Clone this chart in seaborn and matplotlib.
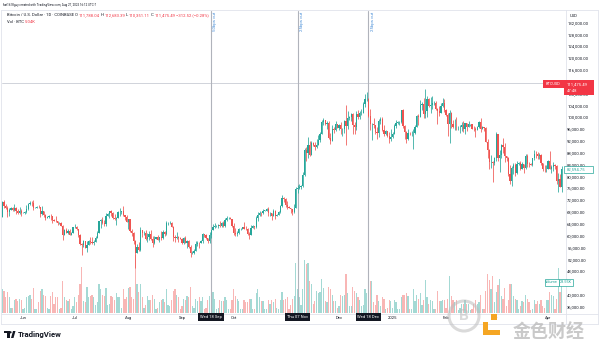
import numpy as np
import pandas as pd
import matplotlib
matplotlib.use("Agg")
import matplotlib.pyplot as plt
import matplotlib.dates as mdates
import matplotlib.patches as mpatches
import matplotlib.ticker as mticker
from matplotlib.lines import Line2D
import seaborn as sns

# ---------------- data (BTC/USD daily, thousands of USD; volume in thousands of BTC) -------------
start_date = "2024-05-18"
first_open_k = 67.0

close_may = [66.9, 66.3, 71.4, 70.1, 69.2, 67.9, 68.5, 69.3, 68.5, 69.4, 68.3, 67.6, 68.4, 67.5]
high_may = [67.4, 67.0, 71.5, 71.9, 70.6, 70.1, 69.2, 69.6, 69.5, 70.6, 69.5, 68.9, 69.5, 69.0]
low_may = [66.6, 65.9, 66.1, 69.2, 68.9, 66.3, 66.6, 68.5, 68.4, 68.3, 67.3, 67.1, 67.1, 66.6]
vol_may = [5, 4, 18, 17, 12, 16, 12, 4, 4, 10, 11, 9, 11, 10]

close_jun = [67.7, 67.8, 68.8, 70.5, 71.1, 70.8, 69.3, 69.3, 69.6, 69.5, 67.3, 68.2, 66.8, 66.0, 66.2,
             66.6, 66.5, 65.2, 64.9, 64.8, 64.1, 64.3, 63.2, 60.3, 61.8, 60.9, 61.6, 60.3, 60.9, 62.7]
high_jun = [67.9, 68.4, 70.2, 71.0, 71.7, 71.6, 71.9, 69.6, 70.0, 70.2, 69.6, 69.9, 68.4, 67.3, 66.4,
            66.9, 67.2, 66.6, 65.7, 66.5, 65.0, 64.5, 64.5, 63.4, 62.3, 62.5, 62.3, 62.2, 61.2, 63.0]
low_jun = [67.4, 67.3, 67.6, 68.5, 70.2, 70.1, 68.5, 69.1, 69.2, 69.2, 66.1, 66.9, 66.3, 65.1, 65.9,
           66.0, 65.1, 64.1, 64.7, 64.6, 63.4, 63.9, 63.2, 58.4, 60.3, 60.7, 60.6, 60.0, 60.4, 60.8]
vol_jun = [3, 4, 12, 13, 14, 11, 19, 3, 3, 8, 17, 18, 14, 13, 4, 3, 13, 16, 7, 12, 12, 3, 4, 24, 12,
           10, 9, 11, 3, 5]

close_jul = [62.8, 62.0, 60.2, 57.0, 56.6, 58.2, 55.8, 56.7, 58.0, 57.7, 57.3, 57.9, 59.2, 60.8, 64.8,
             65.1, 64.1, 63.9, 66.7, 67.2, 68.2, 67.6, 65.9, 65.4, 65.8, 67.9, 68.0, 68.3, 66.8, 66.2, 64.6]
high_jul = [63.8, 63.3, 62.3, 60.5, 57.5, 58.5, 58.2, 58.2, 58.3, 59.4, 59.5, 58.5, 59.8, 61.4, 64.9,
            65.4, 66.1, 65.1, 67.4, 67.6, 68.4, 68.5, 67.8, 67.1, 66.1, 68.2, 69.4, 68.3, 70.0, 66.9, 66.8]
low_jul = [62.5, 61.8, 59.5, 56.8, 53.5, 56.1, 55.8, 54.3, 56.6, 57.2, 57.0, 56.6, 57.8, 59.2, 60.7,
           62.5, 63.9, 63.2, 63.3, 66.6, 65.8, 66.6, 65.5, 65.1, 63.4, 65.8, 66.7, 67.1, 66.6, 65.3, 64.5]
vol_jul = [12, 8, 14, 22, 35, 9, 8, 20, 12, 13, 14, 12, 6, 8, 22, 18, 14, 13, 19, 6, 7, 13, 12, 10, 15,
           12, 12, 4, 18, 11, 12]

close_aug = [65.4, 61.5, 60.7, 58.1, 54.0, 56.0, 55.0, 61.7, 60.9, 60.9, 58.7, 59.4, 60.6, 58.7, 57.5,
             58.9, 59.5, 58.4, 59.5, 59.0, 61.2, 60.4, 64.1, 64.2, 64.2, 62.8, 59.4, 59.0, 59.4, 59.1, 58.9]
high_aug = [65.6, 65.4, 62.2, 61.1, 58.3, 57.0, 57.7, 62.7, 61.7, 61.5, 61.8, 60.7, 61.6, 61.8, 59.8,
            59.8, 59.6, 60.3, 59.6, 61.4, 61.8, 61.4, 64.9, 64.5, 65.0, 64.5, 63.2, 60.2, 61.2, 59.8, 59.4]
low_aug = [62.3, 61.2, 59.8, 57.2, 49.0, 54.0, 54.6, 54.7, 59.6, 60.3, 58.3, 57.7, 58.5, 58.4, 56.1,
           57.1, 58.8, 58.3, 57.8, 58.6, 58.8, 59.8, 60.3, 63.6, 63.8, 62.7, 58.1, 57.9, 58.8, 57.8, 58.7]
vol_aug = [19, 20, 12, 11, 44, 22, 16, 22, 12, 4, 6, 13, 10, 10, 14, 11, 3, 4, 8, 10, 11, 8, 18, 6, 5,
           10, 17, 18, 14, 12, 3]

close_sep = [57.3, 59.1, 57.5, 58.0, 56.2, 53.9, 54.1, 54.8, 57.0, 57.6, 57.3, 58.1, 60.5, 60.0, 59.1,
             58.2, 60.3, 61.7, 62.9, 63.2, 63.3, 63.6, 63.3, 64.3, 63.1, 65.2, 65.8, 65.9, 65.6, 63.3]
high_sep = [59.0, 59.4, 59.8, 58.5, 58.3, 56.9, 54.8, 55.3, 58.1, 58.0, 57.9, 58.6, 60.7, 60.6, 60.4,
            59.2, 61.3, 61.8, 63.9, 64.1, 63.6, 64.0, 64.8, 64.5, 64.8, 65.8, 66.5, 66.3, 66.1, 65.6]
low_sep = [57.2, 57.1, 57.4, 55.6, 55.7, 52.6, 53.7, 53.6, 54.6, 56.4, 55.6, 57.3, 57.6, 59.5, 58.7,
           57.5, 57.6, 59.2, 61.7, 62.4, 62.8, 62.4, 62.9, 62.7, 62.7, 62.7, 64.8, 65.4, 65.4, 62.9]
vol_sep = [5, 11, 10, 13, 12, 20, 5, 4, 11, 9, 12, 9, 12, 3, 4, 10, 13, 16, 16, 11, 3, 4, 10, 9, 9, 12,
           10, 3, 3, 10]

close_oct = [60.8, 60.6, 60.8, 62.1, 62.1, 62.8, 62.2, 62.1, 60.6, 60.3, 62.5, 63.2, 62.9, 66.0, 67.0,
             67.6, 67.4, 68.4, 68.4, 69.0, 67.4, 67.4, 66.7, 68.2, 66.6, 67.0, 67.9, 69.9, 72.7, 72.3, 70.2]
high_oct = [64.1, 62.4, 61.4, 62.5, 62.4, 63.0, 64.5, 63.2, 62.5, 61.3, 63.4, 63.5, 63.3, 66.5, 67.9,
            68.4, 67.9, 68.9, 68.7, 69.4, 69.5, 67.8, 67.5, 68.8, 68.7, 67.3, 68.2, 70.2, 73.6, 72.9, 72.7]
low_oct = [60.2, 59.9, 59.9, 60.5, 61.7, 62.0, 62.1, 61.8, 60.3, 58.9, 60.4, 62.4, 62.0, 62.4, 64.8,
           66.7, 66.7, 67.1, 68.1, 68.1, 66.6, 66.6, 65.3, 66.6, 65.5, 66.6, 66.8, 67.5, 69.7, 71.4, 69.7]
vol_oct = [18, 13, 11, 9, 3, 3, 10, 8, 8, 11, 11, 3, 3, 15, 18, 12, 9, 9, 3, 3, 10, 7, 10, 8, 11, 4, 3,
           10, 16, 10, 11]

close_nov = [69.5, 69.3, 68.8, 67.8, 69.4, 75.6, 75.9, 76.5, 76.7, 80.4, 88.7, 87.9, 90.5, 87.3, 91.1,
             90.6, 89.8, 90.5, 92.3, 94.3, 98.4, 98.9, 97.7, 98.0, 93.0, 91.9, 95.9, 95.6, 97.5, 96.4]
high_nov = [71.6, 69.9, 69.4, 69.0, 70.6, 76.4, 76.9, 77.3, 76.9, 81.5, 89.6, 89.9, 93.4, 91.8, 91.8,
            91.5, 91.4, 92.6, 94.0, 94.9, 98.9, 99.6, 98.9, 98.6, 98.8, 94.7, 97.3, 96.6, 98.7, 97.5]
low_nov = [68.8, 69.1, 67.5, 66.8, 67.5, 69.3, 74.4, 75.6, 75.8, 76.5, 80.2, 85.1, 86.2, 86.7, 87.1,
           90.1, 88.7, 89.4, 90.9, 91.5, 94.1, 97.2, 97.2, 95.8, 92.6, 90.8, 91.8, 94.6, 95.4, 96.2]
vol_nov = [12, 3, 6, 11, 13, 38, 18, 12, 6, 18, 40, 37, 38, 24, 22, 7, 9, 17, 15, 16, 26, 19, 9, 8, 20,
           18, 14, 9, 9, 4]

close_dec = [97.3, 95.8, 96.0, 98.8, 96.9, 99.8, 99.9, 101.1, 97.3, 96.6, 101.1, 100.0, 101.4, 101.4,
             104.3, 106.0, 106.1, 100.2, 97.5, 97.8, 97.2, 95.1, 94.7, 98.7, 99.4, 95.7, 94.2, 95.2, 93.6,
             92.7, 93.4]
high_dec = [97.8, 98.2, 96.3, 99.0, 104.0, 101.9, 100.5, 101.3, 101.2, 98.3, 101.9, 102.5, 101.9, 102.6,
            105.2, 107.7, 108.3, 106.5, 102.7, 98.1, 99.5, 97.3, 96.5, 99.4, 99.9, 99.9, 97.3, 95.5, 95.2,
            94.9, 96.1]
low_dec = [95.7, 94.3, 93.6, 94.7, 90.5, 95.9, 99.1, 98.7, 94.2, 94.3, 95.7, 99.3, 99.2, 100.6, 101.2,
           103.3, 105.3, 100.1, 95.7, 92.2, 96.4, 94.2, 92.4, 93.4, 97.6, 95.2, 93.5, 94.0, 93.3, 91.3, 92.0]
vol_dec = [5, 14, 13, 14, 30, 15, 5, 5, 20, 17, 15, 12, 10, 5, 6, 18, 15, 22, 24, 24, 8, 6, 14, 9, 5,
           12, 11, 3, 4, 10, 9]

close_jan = [94.4, 96.9, 98.1, 98.2, 98.3, 102.2, 96.9, 95.0, 92.5, 94.7, 94.5, 94.5, 94.5, 96.5, 100.5,
             99.9, 104.1, 104.4, 101.1, 102.0, 106.1, 103.6, 104.0, 104.7, 104.7, 102.6, 102.1, 101.3,
             103.7, 104.7, 102.4]
high_jan = [94.9, 97.8, 98.9, 98.7, 98.8, 102.5, 102.7, 97.3, 95.3, 95.8, 94.9, 95.4, 95.9, 97.3, 100.7,
            100.9, 105.9, 104.9, 106.3, 109.3, 107.2, 106.3, 106.8, 107.1, 105.3, 105.5, 103.2, 103.7,
            104.8, 106.4, 106.0]
low_jan = [92.9, 94.4, 96.2, 97.8, 97.3, 97.9, 96.2, 92.5, 91.2, 92.2, 93.9, 93.7, 89.2, 94.3, 96.5,
           97.3, 99.9, 102.3, 99.6, 99.5, 100.1, 103.3, 101.2, 102.8, 104.1, 102.5, 97.8, 100.3, 101.3,
           103.3, 101.6]
vol_jan = [4, 10, 8, 3, 3, 12, 14, 14, 15, 13, 3, 3, 18, 9, 14, 11, 15, 6, 10, 25, 12, 7, 10, 9, 3, 3,
           17, 9, 9, 10, 10]

close_feb = [100.6, 97.6, 101.4, 97.8, 96.6, 96.6, 96.5, 96.5, 96.5, 97.4, 95.8, 97.9, 96.6, 97.5, 97.6,
             96.1, 95.8, 95.6, 96.6, 98.3, 96.1, 96.6, 96.3, 91.5, 88.7, 84.7, 84.7, 84.4]
high_feb = [102.8, 101.5, 102.5, 101.7, 99.0, 99.2, 100.1, 96.9, 97.3, 98.3, 98.5, 98.1, 97.9, 98.8,
            97.8, 97.7, 97.0, 96.7, 96.9, 98.8, 99.5, 96.9, 96.7, 96.5, 92.5, 89.3, 87.1, 85.1]
low_feb = [100.3, 93.7, 91.2, 96.2, 96.2, 95.6, 95.7, 95.7, 94.7, 95.3, 94.9, 94.1, 95.3, 96.5, 97.1,
           96.0, 95.2, 93.4, 95.5, 96.4, 94.9, 95.9, 95.4, 91.4, 86.0, 82.3, 82.7, 78.2]
vol_feb = [4, 11, 28, 13, 10, 8, 10, 2, 4, 7, 7, 10, 7, 7, 2, 3, 7, 10, 7, 8, 14, 3, 3, 17, 30, 25, 18, 28]

close_mar = [86.0, 94.3, 86.1, 87.2, 90.6, 89.9, 86.7, 86.1, 80.7, 78.5, 82.9, 83.7, 81.1, 84.0, 84.3,
             82.6, 84.0, 82.7, 86.8, 84.2, 84.0, 83.8, 86.1, 87.5, 87.4, 86.9, 87.2, 84.4, 82.6, 82.4, 82.5]
high_mar = [86.6, 95.0, 94.4, 88.9, 91.0, 92.8, 91.3, 86.9, 86.4, 83.9, 83.6, 84.4, 84.3, 85.3, 84.7,
            85.0, 84.7, 84.0, 87.4, 87.4, 84.8, 84.5, 86.1, 88.8, 88.5, 88.3, 87.8, 87.5, 84.6, 83.9, 83.9]
low_mar = [83.8, 85.1, 85.1, 81.5, 86.3, 87.8, 84.7, 85.2, 80.1, 77.5, 76.6, 80.7, 79.9, 80.8, 83.7,
           82.0, 82.5, 81.2, 82.4, 83.2, 83.2, 83.7, 83.6, 85.4, 86.3, 85.9, 85.8, 83.7, 81.6, 81.3, 81.3]
vol_mar = [8, 16, 21, 26, 13, 11, 19, 5, 10, 22, 22, 13, 11, 10, 3, 5, 9, 8, 14, 11, 8, 2, 3, 10, 7, 9,
           7, 10, 5, 4, 10]

close_apr = [85.2, 82.5, 83.1, 83.9, 83.5, 78.4, 79.1, 76.3, 82.6]
high_apr = [85.5, 88.5, 83.9, 84.7, 84.2, 83.8, 81.2, 80.9, 83.6]
low_apr = [82.4, 82.3, 81.2, 81.7, 82.4, 77.2, 74.5, 76.2, 74.6]
vol_apr = [10, 16, 14, 13, 3, 11, 34, 16, 23.55]

month_days = [14, 30, 31, 31, 30, 31, 30, 31, 31, 28, 31, 9]
closes_m = [close_may, close_jun, close_jul, close_aug, close_sep, close_oct, close_nov, close_dec,
            close_jan, close_feb, close_mar, close_apr]
highs_m = [high_may, high_jun, high_jul, high_aug, high_sep, high_oct, high_nov, high_dec,
           high_jan, high_feb, high_mar, high_apr]
lows_m = [low_may, low_jun, low_jul, low_aug, low_sep, low_oct, low_nov, low_dec,
          low_jan, low_feb, low_mar, low_apr]
vols_m = [vol_may, vol_jun, vol_jul, vol_aug, vol_sep, vol_oct, vol_nov, vol_dec,
          vol_jan, vol_feb, vol_mar, vol_apr]
for n, a, b, c, d in zip(month_days, closes_m, highs_m, lows_m, vols_m):
    assert len(a) == len(b) == len(c) == len(d) == n, (n, len(a), len(b), len(c), len(d))

event_dates = ["2024-09-18", "2024-11-07", "2024-12-18"]
event_labels = ["50bps cut", "25bps cut", "25bps cut"]
event_boxes = ["Wed 18 Sep", "Thu 07 Nov", "Wed 18 Dec"]
month_ticks = ["2024-06-01", "2024-07-01", "2024-08-01", "2024-09-01", "2024-10-01", "2024-12-01",
               "2025-01-01", "2025-02-01", "2025-03-01", "2025-04-01"]
month_labels = ["Jun", "Jul", "Aug", "Sep", "Oct", "Dec", "2025", "Feb", "Mar", "Apr"]
price_ticks = list(range(36000, 132001, 4000))
hidden_price_ticks = [112000, 44000]  # covered by the price / volume labels in the reference
last_price = 111475.49
last_visible_close = 82594.75

# ---------------- build frame -------------
close = np.array(sum(closes_m, [])) * 1000
high = np.array(sum(highs_m, [])) * 1000
low = np.array(sum(lows_m, [])) * 1000
vol = np.array(sum(vols_m, []), dtype=float)
open_ = np.concatenate([[first_open_k * 1000], close[:-1]])
high = np.maximum(high, np.maximum(open_, close))
low = np.minimum(low, np.minimum(open_, close))
dates = pd.date_range(start_date, periods=len(close), freq="D")
df = pd.DataFrame({"x": mdates.date2num(dates), "open": open_, "high": high, "low": low,
                   "close": close, "vol": vol})
df["dir"] = np.where(df["close"] >= df["open"], "up", "down")

UP, DOWN = "#26a69a", "#ef5350"
TXT = "#131722"

sns.set_theme(style="white")
plt.rcParams["font.family"] = ["Roboto", "Noto Sans CJK SC", "DejaVu Sans"]

W, H = 600, 345
fig = plt.figure(figsize=(6, 3.45), dpi=100)
fig.patch.set_facecolor("white")


def fx(x):
    return x / W


def fy(y):
    return 1 - y / H


PL, PR, PT, PB = 2, 565, 11, 313
ax = fig.add_axes([fx(PL), fy(PB), fx(PR) - fx(PL), fy(PT) - fy(PB)])
axv = ax.twinx()
ax.set_zorder(2)
ax.patch.set_visible(False)
axv.set_zorder(1)

# volume (seaborn)
sns.barplot(data=df, x="x", y="vol", hue="dir", palette={"up": UP, "down": DOWN},
            native_scale=True, dodge=False, errorbar=None, legend=False, width=0.72,
            saturation=1, alpha=0.42, linewidth=0, ax=axv)
axv.set_ylim(0, 229.4)
axv.set_yticks([])
axv.set_ylabel("")
axv.set_xlabel("")

# candles
colors = np.where(df["dir"] == "up", UP, DOWN)
ax.vlines(df["x"], df["low"], df["high"], colors=colors, linewidth=0.55, zorder=3)
body = np.maximum((df["close"] - df["open"]).abs(), 60)
ax.bar(df["x"], body, bottom=np.minimum(df["open"], df["close"]), width=0.72,
       color=colors, linewidth=0, zorder=4)

# last price line
ax.axhline(last_price, color="#c9ccd4", lw=0.6, zorder=2)

# events
for d, lab, box in zip(event_dates, event_labels, event_boxes):
    xd = mdates.date2num(pd.Timestamp(d))
    ax.axvline(xd, color="#b0b3bb", lw=0.8, zorder=2)
    ax.annotate(lab, xy=(xd, 1), xycoords=("data", "axes fraction"), xytext=(1.6, -0.8),
                textcoords="offset points", rotation=90, ha="left", va="top",
                fontsize=3.2, color="#4a8fd8", zorder=6)
    ax.annotate(box, xy=(xd, 0), xycoords=("data", "axes fraction"), xytext=(0, -3.0),
                textcoords="offset points", ha="center", va="center", fontsize=3.0,
                color="white", zorder=6, annotation_clip=False,
                bbox=dict(boxstyle="square,pad=0.45", fc=TXT, ec="none"))

# axes formatting
jun1 = mdates.date2num(pd.Timestamp("2024-06-01"))
ppd = 1.727
ax.set_xlim(jun1 + (PL - 23) / ppd, jun1 + (PR - 23) / ppd)
ax.set_ylim(100000 - (PB - 117) / 0.00296, 100000 + (117 - PT) / 0.00296)
ax.yaxis.tick_right()
ax.set_yticks(price_ticks)
ax.yaxis.set_major_formatter(mticker.FuncFormatter(
    lambda v, p: "" if round(v) in hidden_price_ticks else f"{v:,.2f}"))
ax.set_xticks([mdates.date2num(pd.Timestamp(m)) for m in month_ticks])
ax.set_xticklabels(month_labels)
ax.tick_params(axis="y", length=0, pad=1.6, labelsize=3.0, labelcolor=TXT)
ax.tick_params(axis="x", length=0, pad=2.2, labelsize=3.0, labelcolor=TXT)
ax.set_xlabel("")
ax.set_ylabel("")
ax.grid(False)
axv.grid(False)
for a in (ax, axv):
    for s in a.spines.values():
        s.set_visible(False)

# frame lines
BORDER = "#e0e3eb"
for (x0, y0, x1, y1) in [(1, 10, 598, 10), (598, 10, 598, 324), (1, 324, 598, 324), (1, 10, 1, 324),
                         (566, 10, 566, 324), (1, 313.5, 598, 313.5)]:
    fig.add_artist(Line2D([fx(x0), fx(x1)], [fy(y0), fy(y1)], color=BORDER, lw=0.6, zorder=1))

renderer = fig.canvas.get_renderer()


def seq(x, y, pieces, size, gap=0.0):
    for s, c in pieces:
        t = fig.text(fx(x), fy(y), s, color=c, fontsize=size, va="center", ha="left", zorder=10)
        x += t.get_window_extent(renderer=renderer).width + gap
    return x


RED = "#f23645"
fig.text(fx(2), fy(5), "that1618guy created with TradingView.com, Aug 27, 2025 16:12 UTC-7",
         fontsize=2.2, color=TXT, va="center", ha="left")
seq(7, 15.5, [("Bitcoin / U.S. Dollar · 1D · COINBASE", TXT), ("O", TXT), ("111,788.04", RED),
              ("H", TXT), ("112,683.39", RED), ("L", TXT), ("110,351.11", RED), ("C", TXT),
              ("111,475.49", RED), ("−312.52 (−0.28%)", RED)], 3.0, gap=0.8)
seq(7, 22.3, [("Vol · BTC", TXT), ("5.04K", RED)], 3.0, gap=1.2)

fig.text(fx(570), fy(16), "USD", fontsize=3.0, color=TXT, va="center", ha="left")

# price label boxes
fig.add_artist(mpatches.Rectangle((fx(564), fy(95)), fx(30), fy(80) - fy(95), transform=fig.transFigure,
                                  fc=RED, ec="none", zorder=8))
fig.text(fx(567), fy(84), "111,475.49", fontsize=3.0, color="white", va="center", ha="left", zorder=9)
fig.text(fx(567), fy(91), "47:48", fontsize=3.0, color="white", va="center", ha="left", zorder=9)
fig.add_artist(mpatches.Rectangle((fx(543), fy(87.5)), fx(20.5), fy(80) - fy(87.5),
                                  transform=fig.transFigure, fc=RED, ec="none", zorder=8))
fig.text(fx(553.2), fy(83.8), "BTCUSD", fontsize=2.8, color="white", va="center", ha="center", zorder=9)

fig.add_artist(mpatches.Rectangle((fx(564), fy(172.5)), fx(29), fy(165.5) - fy(172.5),
                                  transform=fig.transFigure, fc="white", ec=UP, lw=0.5, zorder=8))
fig.text(fx(567), fy(169), f"{last_visible_close:,.2f}", fontsize=3.0, color=UP, va="center",
         ha="left", zorder=9)

fig.add_artist(mpatches.Rectangle((fx(545), fy(285.5)), fx(13.5), fy(278.5) - fy(285.5),
                                  transform=fig.transFigure, fc="white", ec=UP, lw=0.5, zorder=8))
fig.text(fx(551.7), fy(282), "Volume", fontsize=2.7, color=UP, va="center", ha="center", zorder=9)
fig.add_artist(mpatches.Rectangle((fx(559), fy(285.5)), fx(14), fy(278.5) - fy(285.5),
                                  transform=fig.transFigure, fc="white", ec=UP, lw=0.5, zorder=8))
fig.text(fx(566), fy(282), f"{vol[-1]:.2f}K", fontsize=2.8, color=UP, va="center", ha="center", zorder=9)

# TradingView logo
LOGO = TXT
fig.add_artist(mpatches.Rectangle((fx(4), fy(333)), fx(5.5), fy(331) - fy(333), transform=fig.transFigure,
                                  fc=LOGO, ec="none"))
fig.add_artist(mpatches.Rectangle((fx(7), fy(338)), fx(2.5), fy(331) - fy(338), transform=fig.transFigure,
                                  fc=LOGO, ec="none"))
fig.add_artist(mpatches.Polygon([(fx(11), fy(338)), (fx(13.5), fy(338)), (fx(15.5), fy(331)),
                                 (fx(13), fy(331))], closed=True, transform=fig.transFigure,
                                fc=LOGO, ec="none"))
fig.add_artist(mpatches.Circle((0.105, (H - 332.3) / 100), 0.011, transform=fig.dpi_scale_trans,
                               fc=LOGO, ec="none"))
fig.text(fx(18), fy(334.5), "TradingView", fontsize=5.6, fontweight="bold", color=TXT,
         va="center", ha="left")

# watermark
fig.add_artist(mpatches.Circle((4.64, (H - 316) / 100), 0.15, transform=fig.dpi_scale_trans,
                               fill=False, ec="#bdbdbd", lw=2.2, alpha=0.55, zorder=11))
fig.text(fx(464), fy(316), "B", fontsize=11, fontweight="bold", color="#bdbdbd", alpha=0.55,
         va="center", ha="center", zorder=11)
fig.add_artist(mpatches.Rectangle((fx(491), fy(320)), fx(6), fy(314) - fy(320), transform=fig.transFigure,
                                  fc="#f5a623", ec="none", zorder=11))
fig.add_artist(mpatches.Polygon([(fx(483), fy(322)), (fx(488), fy(322)), (fx(488), fy(330)),
                                 (fx(500), fy(330)), (fx(500), fy(335)), (fx(483), fy(335))],
                                closed=True, transform=fig.transFigure, fc="#f5a623", ec="none", zorder=11))
fig.text(fx(549), fy(332), "金色财经", fontsize=13, fontweight="bold", color="#b8b8b8", alpha=0.75,
         va="center", ha="center", family=["Noto Sans CJK SC", "DejaVu Sans"], zorder=11)

fig.savefig("out.png", dpi=100, facecolor="white")
